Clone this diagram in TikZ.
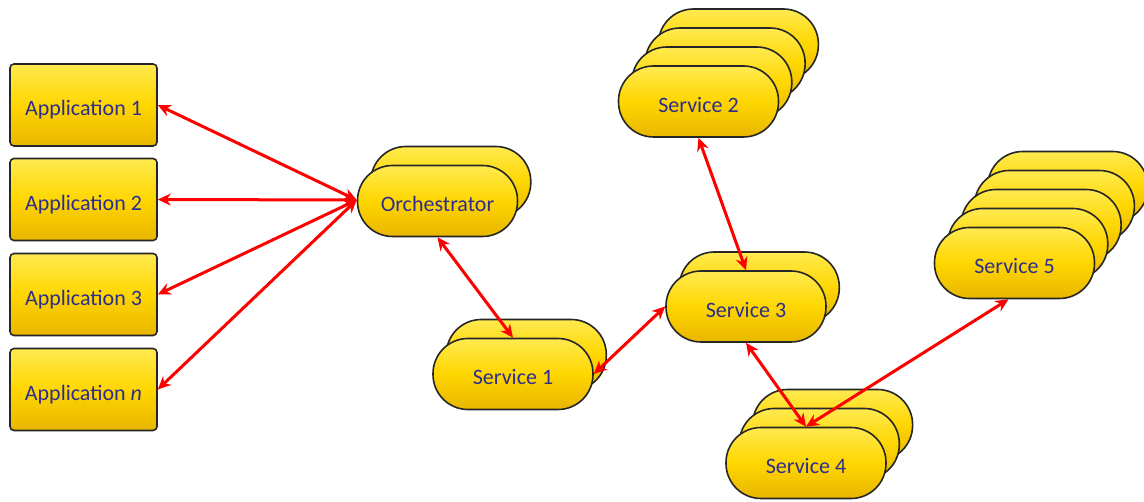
\documentclass[tikz,border=0pt]{standalone}
\usepackage{fontspec}
\setmainfont{Carlito}
\usetikzlibrary{arrows.meta}
\definecolor{gold}{RGB}{255,214,0}
\definecolor{goldTop}{RGB}{255,234,80}
\definecolor{goldBot}{RGB}{232,182,0}
\definecolor{txt}{RGB}{44,46,140}
\definecolor{lnk}{RGB}{255,0,0}
\tikzset{
  shape3d/.style={draw=black!85, line width=1.6pt, top color=goldTop, bottom color=goldBot, middle color=gold,
    text=txt, font=\fontsize{22}{26}\selectfont, inner sep=0pt, text height=22pt, text depth=0pt},
  pill/.style={shape3d, rounded corners=35pt, minimum width=160pt, minimum height=71pt},
  appbox/.style={shape3d, rounded corners=4pt, minimum width=147pt, minimum height=82pt},
  link/.style={draw=lnk, line width=3pt, {Stealth[length=13pt,width=12pt]}-{Stealth[length=13pt,width=12pt]}}
}
\newcommand{\pillstack}[5]{% name, x, y, list of back layers (descending), text
  \foreach \k in {#4}{\node[pill] (#1-\k) at (#2+13.3*\k, #3-19*\k) {};}
  \node[pill] (#1) at (#2,#3) {#5};
}
\begin{document}
\begin{tikzpicture}[x=1pt,y=-1pt]
\useasboundingbox (0,0) rectangle (1144,502);
% applications
\node[appbox] (app1) at (83.5,105) {Application 1};
\node[appbox] (app2) at (83.5,199.5) {Application 2};
\node[appbox] (app3) at (83.5,294.5) {Application 3};
\node[appbox] (appn) at (83.5,389.5) {Application \textit{n}};
% services
\pillstack{orch}{437.5}{201}{1}{Orchestrator}
\pillstack{s2}{698.5}{101.5}{3,2,1}{Service 2}
\pillstack{s5}{1014.5}{263}{4,3,2,1}{Service 5}
\pillstack{s3}{746}{306.5}{1}{Service 3}
\pillstack{s1}{513}{374}{1}{Service 1}
\pillstack{s4}{806}{463}{2,1}{Service 4}
% connectors
\draw[link] (app1.east) -- ([yshift=1pt]orch.west);
\draw[link] (app2.east) -- ([yshift=1pt]orch.west);
\draw[link] (app3.east) -- ([yshift=1pt]orch.west);
\draw[link] (appn.east) -- ([yshift=1pt]orch.west);
\draw[link] (orch.south) -- (s1.north);
\draw[link] (s1.east) -- (s3.west);
\draw[link] (s2.south) -- (s3.north);
\draw[link] (s3.south) -- (s4.north);
\draw[link] (s4.north) -- ([xshift=-6pt]s5.south);
\end{tikzpicture}
\end{document}
